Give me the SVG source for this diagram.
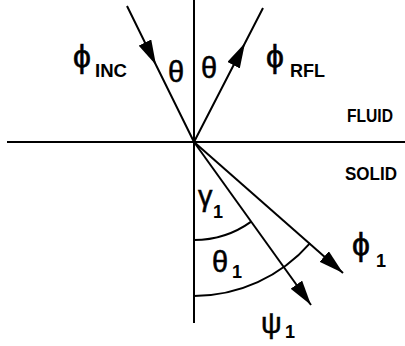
<svg xmlns="http://www.w3.org/2000/svg" width="405" height="346" viewBox="0 0 405 346">
<defs>
<marker id="ah" markerUnits="userSpaceOnUse" viewBox="0 0 25 14" refX="25" refY="7" markerWidth="25" markerHeight="14" orient="auto">
<path d="M0,0 L25,7 L0,14 z" fill="#000"/>
</marker>
<style>
.ln{stroke:#000;stroke-width:2;fill:none}
.g{font-family:"Liberation Sans","DejaVu Sans",Arial,sans-serif;fill:#000}
.big{font-size:29px;stroke:#000;stroke-width:0.5}
.phi{font-size:32px;stroke:#000;stroke-width:0.6}
.sub{font-size:18px;font-weight:bold}
.lbl{font-size:18px;font-weight:bold}
</style>
</defs>
<g id="connectors">
<line class="ln" x1="7" y1="142" x2="405" y2="142"/>
<line class="ln" x1="194" y1="0" x2="194" y2="323"/>
<path class="ln" d="M127,6 L156,65 L194,142" marker-mid="url(#ah)"/>
<path class="ln" d="M194,142 L245,43 L263,8" marker-mid="url(#ah)"/>
<path class="ln" d="M194,142 L311,305" marker-end="url(#ah)"/>
<path class="ln" d="M194,142 L343,273" marker-end="url(#ah)"/>
<path class="ln" d="M194,240 A98,98 0 0 0 251.2,221.6"/>
<path class="ln" d="M194,296 A154,154 0 0 0 310.1,243.2"/>
</g>
<g id="phi_inc" class="g"><text x="73" y="67" class="phi">ϕ</text><text x="95" y="77" class="sub" textLength="32" lengthAdjust="spacingAndGlyphs">INC</text></g>
<g id="theta_left" class="g"><text x="168" y="82" class="big">θ</text></g>
<g id="theta_right" class="g"><text x="201" y="78" class="big">θ</text></g>
<g id="phi_rfl" class="g"><text x="266" y="67" class="phi">ϕ</text><text x="290" y="77" class="sub" textLength="35" lengthAdjust="spacingAndGlyphs">RFL</text></g>
<g id="fluid" class="g"><text x="347" y="122" class="lbl" textLength="46" lengthAdjust="spacingAndGlyphs">FLUID</text></g>
<g id="solid" class="g"><text x="345" y="180" class="lbl" textLength="52" lengthAdjust="spacingAndGlyphs">SOLID</text></g>
<g id="gamma1" class="g"><text x="198" y="206" class="big">γ</text><text x="213" y="218" class="sub">1</text></g>
<g id="theta1" class="g"><text x="212" y="272" class="big">θ</text><text x="232" y="278" class="sub">1</text></g>
<g id="phi1" class="g"><text x="352" y="255" class="phi">ϕ</text><text x="376" y="267" class="sub">1</text></g>
<g id="psi1" class="g"><text x="261" y="333" class="big">ψ</text><text x="285" y="338" class="sub">1</text></g>
</svg>
